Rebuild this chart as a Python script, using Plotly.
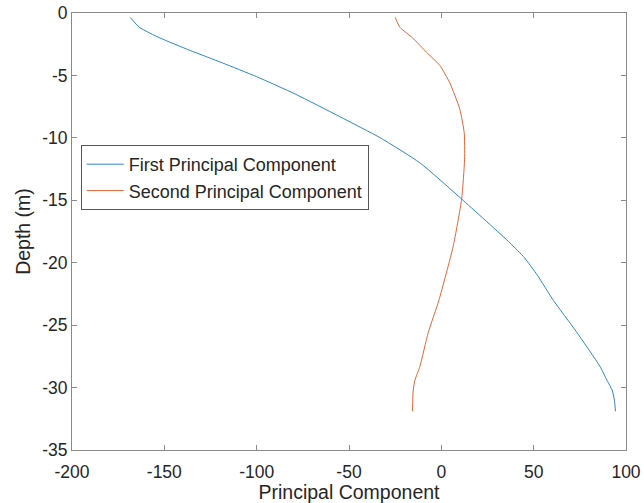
import plotly.graph_objects as go

# First principal component (x) vs depth (y)
pc1_depth = [-0.35, -1.15, -2.0, -3.0, -4.0, -5.1, -6.5, -8.3, -10.0, -12.0,
             -14.9, -18.4, -19.6, -21.0, -23.0, -25.5, -28.3, -29.5, -30.2, -31.0, -31.9]
pc1_value = [-168.5, -163.5, -152.4, -136.0, -118.5, -100.0, -79.0, -55.0, -33.0, -11.6,
             11.0, 37.1, 45.0, 52.0, 60.6, 73.0, 85.9, 90.0, 92.5, 93.7, 94.3]

# Second principal component
pc2_depth = [-0.35, -1.15, -2.0, -3.15, -4.2, -5.6, -7.7, -9.6, -11.7, -14.9,
             -18.7, -23.0, -25.6, -28.3, -29.4, -30.2, -31.0, -31.9]
pc2_value = [-25.0, -22.4, -15.5, -8.0, -0.8, 4.6, 10.0, 12.4, 12.6, 11.0,
             6.4, -1.3, -7.1, -11.6, -14.3, -15.2, -15.5, -15.6]

x_ticks = [-200, -150, -100, -50, 0, 50, 100]
x_tick_labels = ["-200", "-150", "-100", "-50", "0", "50", "100"]
y_ticks = [-35, -30, -25, -20, -15, -10, -5, 0]
y_tick_labels = ["-35", "-30", "-25", "-20", "-15", "-10", "-5", "0"]

fig = go.Figure()
fig.add_trace(go.Scatter(x=pc1_value, y=pc1_depth, mode="lines",
                         name="First Principal Component",
                         line=dict(color="#2f86c9", width=1, shape="spline", smoothing=0.5)))
fig.add_trace(go.Scatter(x=pc2_value, y=pc2_depth, mode="lines",
                         name="Second Principal Component",
                         line=dict(color="#e0673a", width=1, shape="spline", smoothing=0.5)))

axis_common = dict(showgrid=False, zeroline=False, showline=True, linecolor="#8a8a8a",
                   linewidth=1, ticks="inside", ticklen=5, tickcolor="#8a8a8a",
                   mirror="ticks", automargin=False,
                   tickfont=dict(size=17.5, color="#262626"))

fig.update_xaxes(range=[-200, 100], tickvals=x_ticks, ticktext=x_tick_labels,
                 ticklabelstandoff=6,
                 title=dict(text="Principal Component", font=dict(size=19.5, color="#262626"), standoff=2),
                 **axis_common)
fig.update_yaxes(range=[-35, 0], tickvals=y_ticks, ticktext=y_tick_labels,
                 title=dict(text="Depth (m)", font=dict(size=19.5, color="#262626"), standoff=6),
                 **axis_common)

fig.update_layout(
    width=644, height=503,
    margin=dict(l=72, r=18, t=13, b=53),
    paper_bgcolor="white", plot_bgcolor="white",
    font=dict(family="Liberation Sans, Arial, sans-serif", color="#262626"),
    legend=dict(x=0.0157, y=0.698, xanchor="left", yanchor="top",
                bgcolor="white", bordercolor="#555555", borderwidth=1,
                font=dict(size=18), tracegroupgap=0, itemwidth=37),
    showlegend=True,
)

fig.write_html("out.html", config={"displayModeBar": False},
               post_script="document.body.style.margin='0px';document.body.style.overflow='hidden';")
